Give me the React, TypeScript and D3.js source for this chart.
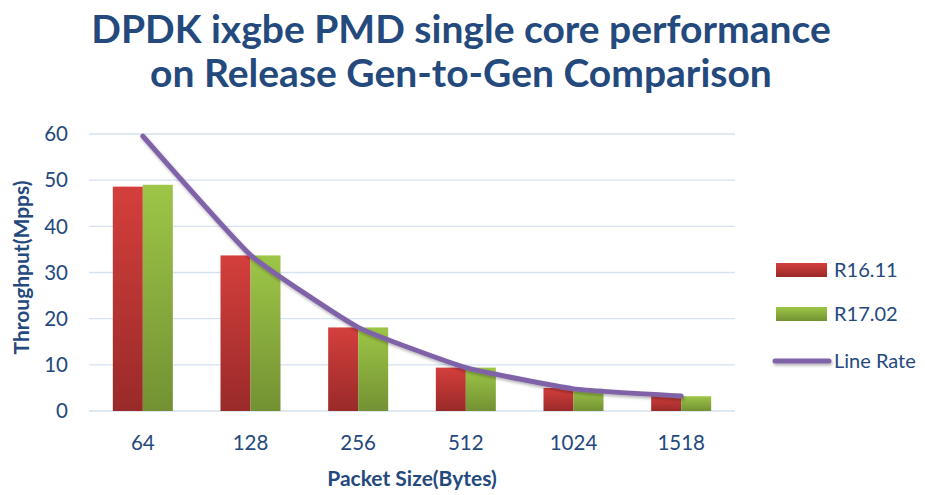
import * as d3 from "d3";
import { useEffect, useRef } from "react";

const packetSizes = ["64", "128", "256", "512", "1024", "1518"];
const r1611 = [48.6, 33.7, 18.1, 9.4, 5.0, 3.3];
const r1702 = [49.0, 33.7, 18.1, 9.4, 4.8, 3.2];
const lineRate = [59.52, 33.78, 18.12, 9.4, 4.79, 3.25];
const yTicks = [0, 10, 20, 30, 40, 50, 60];
const seriesNames = ["R16.11", "R17.02", "Line Rate"];

const W = 925;
const H = 495;
const FONT = "Lato, 'Open Sans', sans-serif";
const TEXT = "#24497d";

export default function App() {
  const ref = useRef<SVGSVGElement>(null);

  useEffect(() => {
    document.body.style.margin = "0";
    const svg = d3.select(ref.current);
    svg.selectAll("*").remove();

    const margin = { top: 134, right: 190, bottom: 84, left: 89 };
    const width = W - margin.left - margin.right;
    const height = H - margin.top - margin.bottom;

    const defs = svg.append("defs");
    const red = defs.append("linearGradient").attr("id", "gRed").attr("x1", 0).attr("y1", 0).attr("x2", 0).attr("y2", 1);
    red.append("stop").attr("offset", "0%").attr("stop-color", "#d43f3c");
    red.append("stop").attr("offset", "100%").attr("stop-color", "#992a29");
    const green = defs.append("linearGradient").attr("id", "gGreen").attr("x1", 0).attr("y1", 0).attr("x2", 0).attr("y2", 1);
    green.append("stop").attr("offset", "0%").attr("stop-color", "#9dc647");
    green.append("stop").attr("offset", "100%").attr("stop-color", "#739133");
    // user-space region so a flat horizontal line still gets the shadow
    const shadow = defs.append("filter").attr("id", "shadow")
      .attr("filterUnits", "userSpaceOnUse")
      .attr("x", -100).attr("y", -200).attr("width", W + 200).attr("height", H + 400);
    shadow.append("feDropShadow").attr("dx", 1).attr("dy", 2).attr("stdDeviation", 1.5).attr("flood-color", "#000").attr("flood-opacity", 0.3);

    // title
    const title = svg.append("text")
      .attr("text-anchor", "middle")
      .attr("font-family", FONT)
      .attr("font-weight", "bold")
      .attr("font-size", 39)
      .attr("fill", TEXT);
    title.append("tspan").attr("x", 461).attr("y", 43).text("DPDK ixgbe PMD single core performance");
    title.append("tspan").attr("x", 461).attr("y", 87).text("on Release Gen-to-Gen Comparison");

    const g = svg.append("g").attr("transform", `translate(${margin.left},${margin.top})`);

    const x0 = d3.scaleBand().domain(packetSizes).range([0, width]);
    const x1 = d3.scaleBand().domain(["a", "b"]).range([0, 60]);
    const y = d3.scaleLinear().domain([0, 60]).range([height, 0]);

    // gridlines
    g.selectAll("line.grid")
      .data(yTicks)
      .join("line")
      .attr("class", "grid")
      .attr("x1", 0)
      .attr("x2", width)
      .attr("y1", (d) => y(d))
      .attr("y2", (d) => y(d))
      .attr("stroke", "#d5e2f1")
      .attr("stroke-width", 1.3);

    // y tick labels
    g.selectAll("text.ytick")
      .data(yTicks)
      .join("text")
      .attr("class", "ytick")
      .attr("x", -21)
      .attr("y", (d) => y(d))
      .attr("dy", "0.35em")
      .attr("text-anchor", "end")
      .attr("font-family", FONT)
      .attr("font-size", 20.5)
      .attr("fill", TEXT)
      .text((d) => d);

    // x tick labels
    g.selectAll("text.xtick")
      .data(packetSizes)
      .join("text")
      .attr("class", "xtick")
      .attr("x", (d) => x0(d)! + x0.bandwidth() / 2)
      .attr("y", height + 39)
      .attr("text-anchor", "middle")
      .attr("font-family", FONT)
      .attr("font-size", 20.5)
      .attr("fill", TEXT)
      .text((d) => d);

    // axis titles
    g.append("text")
      .attr("x", width / 2)
      .attr("y", height + 75)
      .attr("text-anchor", "middle")
      .attr("font-family", FONT)
      .attr("font-weight", "bold")
      .attr("font-size", 21)
      .attr("fill", TEXT)
      .text("Packet Size(Bytes)");

    g.append("text")
      .attr("transform", `translate(${-60},${height / 2 - 5}) rotate(-90)`)
      .attr("text-anchor", "middle")
      .attr("font-family", FONT)
      .attr("font-weight", "bold")
      .attr("font-size", 21)
      .attr("fill", TEXT)
      .text("Throughput(Mpps)");

    // bars
    const groups = g.selectAll("g.grp")
      .data(packetSizes)
      .join("g")
      .attr("class", "grp")
      .attr("transform", (d) => `translate(${x0(d)! + x0.bandwidth() / 2 - 30},0)`);

    groups.append("rect")
      .attr("x", x1("a")!)
      .attr("width", x1.bandwidth())
      .attr("y", (_, i) => y(r1611[i]))
      .attr("height", (_, i) => height - y(r1611[i]))
      .attr("fill", "url(#gRed)");

    groups.append("rect")
      .attr("x", x1("b")!)
      .attr("width", x1.bandwidth())
      .attr("y", (_, i) => y(r1702[i]))
      .attr("height", (_, i) => height - y(r1702[i]))
      .attr("fill", "url(#gGreen)");

    // line rate
    const line = d3.line<number>()
      .x((_, i) => x0(packetSizes[i])! + x0.bandwidth() / 2)
      .y((d) => y(d))
      .curve(d3.curveCardinal.tension(0.6));

    g.append("path")
      .datum(lineRate)
      .attr("d", line)
      .attr("fill", "none")
      .attr("stroke", "#8062a8")
      .attr("stroke-width", 5)
      .attr("stroke-linecap", "round")
      .attr("filter", "url(#shadow)");

    // legend
    const leg = svg.append("g").attr("transform", "translate(776,0)");
    const legY = [270, 314, 361];
    leg.append("rect").attr("x", 0).attr("y", legY[0] - 7).attr("width", 51).attr("height", 14).attr("fill", "url(#gRed)");
    leg.append("rect").attr("x", 0).attr("y", legY[1] - 7).attr("width", 51).attr("height", 14).attr("fill", "url(#gGreen)");
    leg.append("line").attr("x1", -1).attr("x2", 53).attr("y1", legY[2]).attr("y2", legY[2])
      .attr("stroke", "#8062a8").attr("stroke-width", 5).attr("stroke-linecap", "round").attr("filter", "url(#shadow)");
    leg.selectAll("text.leg")
      .data(seriesNames)
      .join("text")
      .attr("class", "leg")
      .attr("x", 58)
      .attr("y", (_, i) => legY[i])
      .attr("dy", "0.35em")
      .attr("font-family", FONT)
      .attr("font-size", 20)
      .attr("fill", TEXT)
      .text((d) => d);
  }, []);

  return <svg ref={ref} width={W} height={H} style={{ display: "block", background: "#fff" }} />;
}
